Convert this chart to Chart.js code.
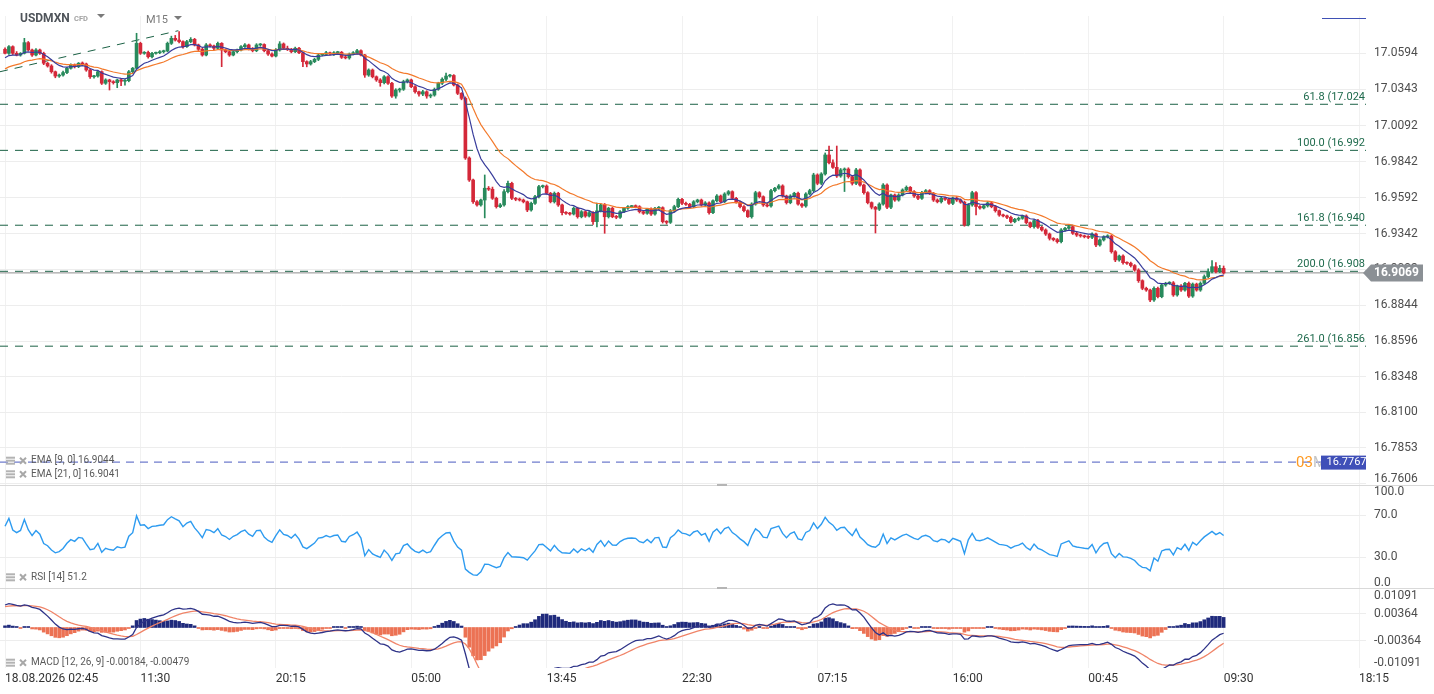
<!DOCTYPE html>
<html>
<head>
<meta charset="utf-8">
<title>USDMXN M15</title>
<script src="https://cdn.jsdelivr.net/npm/chart.js@4.4.1/dist/chart.umd.min.js"></script>
<style>
  html, body { margin: 0; padding: 0; background: #fff; }
  body { position: relative; width: 1434px; height: 694px; overflow: hidden; }
  canvas { position: absolute; left: 0; }
  .sep { position: absolute; left: 0; width: 1434px; height: 1px; background: #d9d9d9; }
  .grip { position: absolute; left: 717px; width: 10px; height: 2px; background: #b5b5b5; }
</style>
</head>
<body>
<canvas id="mainChart" width="1434" height="485" style="top:0"></canvas>
<canvas id="rsiChart" width="1434" height="103" style="top:485px"></canvas>
<canvas id="macdChart" width="1434" height="106" style="top:588px"></canvas>
<div class="sep" style="top:485px"></div>
<div class="sep" style="top:588px"></div>
<div class="grip" style="top:484px"></div>
<div class="grip" style="top:587px"></div>
<script>
// M15 candles (open of each bar = previous close)
const firstOpen = 17.0622;
const closes = [
  17.0594,17.0640,17.0594,17.0582,17.0594,17.0668,17.0617,17.0582,17.0617,17.0594,
  17.0525,17.0506,17.0466,17.0436,17.0443,17.0460,17.0490,17.0513,17.0501,17.0525,
  17.0520,17.0478,17.0431,17.0436,17.0466,17.0386,17.0409,17.0397,17.0390,17.0409,
  17.0400,17.0404,17.0466,17.0490,17.0663,17.0594,17.0600,17.0570,17.0594,17.0598,
  17.0605,17.0610,17.0663,17.0698,17.0686,17.0675,17.0640,17.0675,17.0691,17.0652,
  17.0622,17.0582,17.0652,17.0645,17.0629,17.0663,17.0617,17.0605,17.0582,17.0605,
  17.0617,17.0640,17.0652,17.0626,17.0612,17.0652,17.0655,17.0612,17.0589,17.0575,
  17.0617,17.0659,17.0629,17.0622,17.0605,17.0629,17.0598,17.0536,17.0520,17.0536,
  17.0552,17.0582,17.0586,17.0598,17.0589,17.0598,17.0601,17.0566,17.0562,17.0589,
  17.0598,17.0612,17.0582,17.0443,17.0478,17.0431,17.0409,17.0390,17.0431,17.0386,
  17.0297,17.0339,17.0344,17.0397,17.0409,17.0362,17.0327,17.0311,17.0327,17.0297,
  17.0304,17.0344,17.0386,17.0414,17.0436,17.0440,17.0374,17.0316,17.0281,16.9867,
  16.9714,16.9563,16.9541,16.9575,16.9657,16.9650,16.9587,16.9529,16.9541,16.9633,
  16.9691,16.9587,16.9580,16.9575,16.9563,16.9506,16.9552,16.9598,16.9668,16.9672,
  16.9622,16.9563,16.9622,16.9541,16.9487,16.9483,16.9478,16.9518,16.9459,16.9494,
  16.9464,16.9487,16.9425,16.9500,16.9541,16.9459,16.9518,16.9459,16.9455,16.9494,
  16.9518,16.9529,16.9532,16.9529,16.9494,16.9483,16.9511,16.9478,16.9518,16.9522,
  16.9425,16.9420,16.9501,16.9529,16.9580,16.9552,16.9545,16.9529,16.9563,16.9575,
  16.9541,16.9555,16.9487,16.9570,16.9603,16.9563,16.9617,16.9633,16.9587,16.9563,
  16.9529,16.9501,16.9459,16.9547,16.9626,16.9598,16.9541,16.9534,16.9640,16.9657,
  16.9673,16.9603,16.9557,16.9603,16.9622,16.9547,16.9534,16.9617,16.9640,16.9749,
  16.9691,16.9756,16.9888,16.9834,16.9802,16.9742,16.9784,16.9790,16.9737,16.9691,
  16.9784,16.9679,16.9626,16.9557,16.9525,16.9511,16.9547,16.9679,16.9525,16.9610,
  16.9575,16.9610,16.9645,16.9663,16.9633,16.9603,16.9587,16.9626,16.9640,16.9622,
  16.9575,16.9563,16.9587,16.9580,16.9552,16.9589,16.9575,16.9560,16.9402,16.9541,
  16.9626,16.9530,16.9520,16.9535,16.9555,16.9529,16.9501,16.9471,16.9465,16.9455,
  16.9425,16.9441,16.9448,16.9464,16.9418,16.9390,16.9432,16.9386,16.9367,16.9339,
  16.9309,16.9300,16.9286,16.9367,16.9379,16.9390,16.9344,16.9332,16.9326,16.9320,
  16.9316,16.9339,16.9263,16.9298,16.9320,16.9325,16.9216,16.9159,16.9186,16.9140,
  16.9136,16.9120,16.9089,16.9015,16.8962,16.8950,16.8881,16.8962,16.8904,16.8985,
  16.8997,16.9000,16.8916,16.8978,16.8950,16.8997,16.8908,16.8991,16.8950,16.8997,
  16.9043,16.9077,16.9112,16.9077,16.9101,16.9069
];
// wick lengths above / below the body, in 0.0001
const wickUp = [
  10,8,6,12,5,30,8,6,9,7, 8,6,9,5,7,10,6,8,7,5, 9,6,8,5,7,6,8,5,7,6, 8,7,9,6,70,8,6,10,7,5,
  8,6,9,15,20,58,6,9,12,7, 6,8,10,7,6,9,5,8,6,9, 7,8,10,6,8,9,7,5,6,8, 9,16,7,15,6,8,7,5,6,9,
  7,8,6,9,5,8,7,6,9,7, 8,10,6,5,8,7,6,9,8,6, 7,9,8,10,7,6,8,5,9,7, 8,9,7,10,20,8,6,7,5,10,
  8,6,9,7,92,12,15,8,10,15, 15,8,6,9,7,5,8,10,9,7, 8,6,9,7,5,8,6,9,7,8, 6,9,7,54,8,10,7,6,9,8,
  7,8,6,9,7,8,6,9,7,8, 6,7,9,10,8,6,9,7,8,6, 7,9,8,6,10,7,9,8,6,7, 5,8,6,9,10,7,6,8,9,7,
  10,8,6,9,7,8,6,9,10,12, 8,9,14,62,20,148,10,8,9,6, 12,8,6,7,5,6,9,10,8,6, 7,9,8,10,6,7,5,9,8,7,
  6,8,7,9,8,6,9,7,8,10, 10,8,6,7,9,6,8,5,7,6, 8,7,9,6,8,5,7,9,6,8, 7,5,8,9,7,10,6,8,7,6,
  8,9,6,8,7,9,6,8,7,9, 6,8,7,9,6,8,7,10,8,9, 7,8,9,6,10,7,9,8,7,10, 12,20,42,28,20,16
];
const wickDn = [
  5,7,9,6,8,5,7,9,6,8, 10,8,10,12,9,7,8,6,9,7, 8,9,12,10,7,9,8,58,10,35, 30,28,8,9,6,8,7,9,8,6,
  7,9,6,8,7,9,10,6,8,7, 9,8,6,7,9,8,116,7,9,6, 8,7,6,9,8,7,9,8,10,7, 6,8,7,9,8,6,7,35,20,8,
  7,9,6,8,7,9,6,8,7,9, 6,8,7,16,9,8,10,25,8,9, 10,15,15,8,9,7,10,15,12,15, 12,8,7,9,10,8,7,9,10,10,
  10,12,9,8,124,9,8,10,7,9, 8,9,10,7,8,12,9,7,8,9, 7,8,9,10,15,8,9,7,10,8, 9,7,20,37,8,115,9,7,10,8,
  7,9,8,6,9,8,7,10,8,9, 10,12,8,10,7,9,8,10,7,8, 9,8,10,7,9,8,6,9,8,10, 8,9,5,10,8,9,10,7,8,9,
  7,9,10,8,9,8,10,9,7,8, 10,9,8,9,8,10,9,150,10,12, 9,8,10,9,12,165,9,8,10,10, 9,8,7,9,8,10,9,7,8,9,
  10,8,9,7,8,9,10,8,9,7, 9,59,8,7,9,8,10,9,8,10, 9,8,10,7,9,8,10,9,8,10, 12,9,10,8,9,7,8,10,9,8,
  9,10,12,9,8,9,10,12,9,10, 8,10,9,12,10,9,12,10,9,8, 9,8,10,9,10,8,10,9,8,9, 8,9,8,9,7,8
];

// time axis: one label every 35 bars
const timeTicks = [0, 35, 70, 105, 140, 175, 210, 245, 280, 315, 350];
const timeLabels = ["18.08.2026 02:45", "11:30", "20:15", "05:00", "13:45", "22:30", "07:15", "16:00", "00:45", "09:30", "18:15"];

// price axis
const priceTicks = [17.0594, 17.0343, 17.0092, 16.9842, 16.9592, 16.9342, 16.9093, 16.8844, 16.8596, 16.8348, 16.8100, 16.7853, 16.7606];
const rsiTicks = [100, 70, 30, 0];
const rsiGrid = [70, 30];
const macdTicks = [0.01091, 0.00364, -0.00364, -0.01091];

// fibonacci levels
const fibLevels = [17.024, 16.992, 16.940, 16.908, 16.856];
const fibNames = ["61.8", "100.0", "161.8", "200.0", "261.0"];

// trend line (bar index, price)
const trendX = [-1.3, 44.8];
const trendY = [17.0466, 17.0751];

const lastPrice = 16.9069;
const alertLine = 16.7755;
const alertText = "16.7767";

// legend read-outs shown in the picture
const emaLegend = ["EMA [9, 0] 16.9044", "EMA [21, 0] 16.9041"];
const rsiLegend = "RSI [14] 51.2";
const macdLegend = "MACD [12, 26, 9] -0.00184, -0.00479";

// indicator values at the left edge of the picture
const ema9Start = 17.0555, ema21Start = 17.0475;
const ema12Start = 17.0530, ema26Start = 17.0470, signalStart = 0.0055;
const rsiGainStart = 0.0010, rsiLossStart = 0.00047;

const X_MIN = -1.3, X_MAX = 351.8;
const UP = "#288a5c", DOWN = "#d42839";

Chart.defaults.font.family = "Roboto";
Chart.defaults.animation = false;

// OHLC
const opens = closes.map((c, i) => i === 0 ? firstOpen : closes[i - 1]);
const highs = closes.map((c, i) => Math.max(opens[i], c) + wickUp[i] / 10000);
const lows = closes.map((c, i) => Math.min(opens[i], c) - wickDn[i] / 10000);

// indicators
function ema(src, n, start) {
  const k = 2 / (n + 1);
  let e = start;
  return src.map(v => (e += k * (v - e)));
}
const ema9 = ema(closes, 9, ema9Start);
const ema21 = ema(closes, 21, ema21Start);
const ema12 = ema(closes, 12, ema12Start);
const ema26 = ema(closes, 26, ema26Start);
const macd = ema12.map((v, i) => v - ema26[i]);
const signal = ema(macd, 9, signalStart);
const hist = macd.map((v, i) => v - signal[i]);

let avgGain = rsiGainStart, avgLoss = rsiLossStart;
const rsi = closes.map((c, i) => {
  const d = c - opens[i];
  avgGain = (avgGain * 13 + Math.max(d, 0)) / 14;
  avgLoss = (avgLoss * 13 + Math.max(-d, 0)) / 14;
  return 100 - 100 / (1 + avgGain / avgLoss);
});

const pts = arr => arr.map((y, x) => ({ x, y }));

function hLine(v, color, dash) {
  return { type: "line", data: [{ x: X_MIN, y: v }, { x: X_MAX, y: v }], borderColor: color, borderWidth: 1, borderDash: dash, pointRadius: 0, order: 3 };
}

function timeAxis(showLabels) {
  return {
    type: "linear", min: X_MIN, max: X_MAX, offset: false,
    afterBuildTicks: s => { s.ticks = timeTicks.map(v => ({ value: v })); },
    afterFit: s => { s.height = showLabels ? 26 : 0; },
    grid: { color: "#f1f1f1", drawTicks: false, offset: false },
    border: { display: false },
    ticks: {
      display: showLabels, autoSkip: false, maxRotation: 0, align: "start", padding: 4,
      color: "#333", font: { size: 12 }, callback: (v, i) => timeLabels[i]
    }
  };
}

function valueAxis(min, max, grid) {
  return {
    position: "right", min, max, beginAtZero: false,
    afterBuildTicks: s => { s.ticks = grid.map(v => ({ value: v })); },
    afterFit: s => { s.width = 68; },
    grid: { color: "#ededed", drawTicks: false },
    border: { display: false },
    ticks: { display: false }
  };
}

// right hand labels, kept inside their pane
function drawAxisLabels(chart, ticks, fmt, padTop, padBot) {
  const ctx = chart.ctx, s = chart.scales.y, a = chart.chartArea;
  ctx.save();
  ctx.font = "12px Roboto";
  ctx.fillStyle = "#4d4d4d";
  ctx.textAlign = "left";
  ctx.textBaseline = "middle";
  ticks.forEach(v => {
    const y = Math.min(Math.max(s.getPixelForValue(v), a.top + padTop), a.bottom - padBot);
    ctx.fillText(fmt(v), a.right + 8, y);
  });
  ctx.restore();
}

function legendRow(ctx, y, text) {
  ctx.save();
  ctx.fillStyle = "#b3b3b3";
  ctx.fillRect(6, y - 4, 9, 2);
  ctx.fillRect(6, y - 1, 9, 2);
  ctx.fillRect(6, y + 2, 9, 2);
  ctx.strokeStyle = "#a8a8a8";
  ctx.lineWidth = 2;
  ctx.beginPath();
  ctx.moveTo(20, y - 3); ctx.lineTo(26, y + 3);
  ctx.moveTo(26, y - 3); ctx.lineTo(20, y + 3);
  ctx.stroke();
  ctx.fillStyle = "#5a5a5a";
  ctx.font = "10px Roboto";
  ctx.textAlign = "left";
  ctx.textBaseline = "middle";
  ctx.fillText(text, 31, y);
  ctx.restore();
}

function caret(ctx, x, y) {
  ctx.fillStyle = "#7a7a7a";
  ctx.beginPath();
  ctx.moveTo(x, y); ctx.lineTo(x + 8, y); ctx.lineTo(x + 4, y + 4);
  ctx.closePath();
  ctx.fill();
}

const candleColor = c => closes[c.dataIndex] >= opens[c.dataIndex] ? UP : DOWN;

const mainOverlay = {
  id: "mainOverlay",
  afterDraw(chart) {
    const ctx = chart.ctx, y = chart.scales.y, a = chart.chartArea;
    ctx.save();
    // header
    ctx.textBaseline = "middle";
    ctx.fillStyle = "#50555b";
    ctx.font = "bold 12px Roboto";
    ctx.fillText("USDMXN", 20, 19);
    ctx.fillStyle = "#a3a3a3";
    ctx.font = "bold 7.5px Roboto";
    ctx.fillText("CFD", 74, 19.5);
    caret(ctx, 97, 14);
    ctx.fillStyle = "#7a7a7a";
    ctx.font = "11px Roboto";
    ctx.fillText("M15", 146, 20);
    caret(ctx, 174, 16);
    ctx.strokeStyle = "#3f51b5";
    ctx.lineWidth = 1;
    ctx.beginPath(); ctx.moveTo(1322, 18.5); ctx.lineTo(a.right, 18.5); ctx.stroke();

    // fibonacci labels
    ctx.font = "11px Roboto";
    ctx.fillStyle = "#1e6a4c";
    ctx.textAlign = "right";
    ctx.textBaseline = "alphabetic";
    fibLevels.forEach((v, i) => ctx.fillText(fibNames[i] + " (" + v.toFixed(3), a.right - 1, y.getPixelForValue(v) - 4.5));
    ctx.restore();

    legendRow(ctx, 460.7, emaLegend[0]);
    legendRow(ctx, 474.3, emaLegend[1]);

    drawAxisLabels(chart, priceTicks, v => v.toFixed(4), 7, 6);

    ctx.save();
    // alert level tag
    const ay = y.getPixelForValue(alertLine);
    ctx.textBaseline = "middle";
    ctx.textAlign = "left";
    ctx.font = "15px Roboto";
    ctx.fillStyle = "#ff9a22";
    ctx.fillText("03", 1296, ay + 1);
    ctx.fillStyle = "#c4c4c4";
    ctx.fillText("M", 1313, ay + 1);
    ctx.fillStyle = "#3f4fb8";
    ctx.fillRect(1321, ay - 6.5, a.right - 1321, 14);
    ctx.beginPath(); ctx.rect(1321, ay - 8, a.right - 1321, 16); ctx.clip();
    ctx.fillStyle = "#fff";
    ctx.font = "11px Roboto";
    ctx.fillText(alertText, 1326.5, ay);
    ctx.restore();

    // last price tag
    ctx.save();
    const py = y.getPixelForValue(lastPrice);
    ctx.fillStyle = "#8b9095";
    ctx.beginPath();
    ctx.moveTo(a.right - 3, py);
    ctx.lineTo(a.right + 5, py - 8.5);
    ctx.lineTo(1423, py - 8.5);
    ctx.lineTo(1423, py + 8.5);
    ctx.lineTo(a.right + 5, py + 8.5);
    ctx.closePath();
    ctx.fill();
    ctx.fillStyle = "#fff";
    ctx.font = "bold 12px Roboto";
    ctx.textAlign = "left";
    ctx.textBaseline = "middle";
    ctx.fillText(lastPrice.toFixed(4), a.right + 8, py + 0.5);
    ctx.restore();
  }
};

const rsiOverlay = {
  id: "rsiOverlay",
  afterDraw(chart) {
    legendRow(chart.ctx, 92.3, rsiLegend);
    drawAxisLabels(chart, rsiTicks, v => v.toFixed(1), 7, 5.5);
  }
};

const macdOverlay = {
  id: "macdOverlay",
  afterDraw(chart) {
    legendRow(chart.ctx, 74.7, macdLegend);
    drawAxisLabels(chart, macdTicks, v => v.toFixed(5), 8, 4.7);
  }
};

const baseOptions = {
  responsive: false,
  devicePixelRatio: 1,
  events: [],
  plugins: { legend: { display: false }, tooltip: { enabled: false } }
};

// Price pane
new Chart(document.getElementById("mainChart"), {
  type: "bar",
  data: {
    datasets: [
      { type: "line", data: pts(ema9), borderColor: "#393d9c", borderWidth: 1.2, pointRadius: 0, order: 0 },
      { type: "line", data: pts(ema21), borderColor: "#f37a2c", borderWidth: 1.2, pointRadius: 0, order: 0 },
      { data: closes.map((c, i) => ({ x: i, y: [opens[i], c] })), backgroundColor: candleColor, barThickness: 3, minBarLength: 1, grouped: false, order: 1 },
      { data: closes.map((c, i) => ({ x: i, y: [lows[i], highs[i]] })), backgroundColor: candleColor, barThickness: 1, grouped: false, order: 2 },
      ...fibLevels.map(v => hLine(v, "#1b6145", [8, 7])),
      { type: "line", data: [{ x: trendX[0], y: trendY[0] }, { x: trendX[1], y: trendY[1] }], borderColor: "#1b6145", borderWidth: 1, borderDash: [8, 7], pointRadius: 0, order: 3 },
      hLine(alertLine, "#4a5bc0", [8, 6]),
      hLine(lastPrice, "#8e8e8e", [])
    ]
  },
  options: {
    ...baseOptions,
    layout: { padding: { top: 16 } },
    scales: { x: timeAxis(false), y: valueAxis(16.7596, 17.0853, priceTicks) }
  },
  plugins: [mainOverlay]
});

// RSI pane
new Chart(document.getElementById("rsiChart"), {
  type: "line",
  data: {
    datasets: [
      { data: pts(rsi), borderColor: "#2d9bf0", borderWidth: 1.4, pointRadius: 0 }
    ]
  },
  options: {
    ...baseOptions,
    scales: { x: timeAxis(false), y: valueAxis(0.95, 98.4, rsiGrid) }
  },
  plugins: [rsiOverlay]
});

// MACD pane
new Chart(document.getElementById("macdChart"), {
  type: "bar",
  data: {
    datasets: [
      { type: "line", data: pts(macd), borderColor: "#2e3388", borderWidth: 1.3, pointRadius: 0, order: 0 },
      { type: "line", data: pts(signal), borderColor: "#f08468", borderWidth: 1.3, pointRadius: 0, order: 0 },
      { data: pts(hist), backgroundColor: c => hist[c.dataIndex] >= 0 ? "#1f2a7c" : "#ec7254", barThickness: 3, minBarLength: 1, grouped: false, order: 1 }
    ]
  },
  options: {
    ...baseOptions,
    scales: { x: timeAxis(true), y: valueAxis(-0.01092, 0.01065, [0.00364, -0.00364]) }
  },
  plugins: [macdOverlay]
});
</script>
</body>
</html>
